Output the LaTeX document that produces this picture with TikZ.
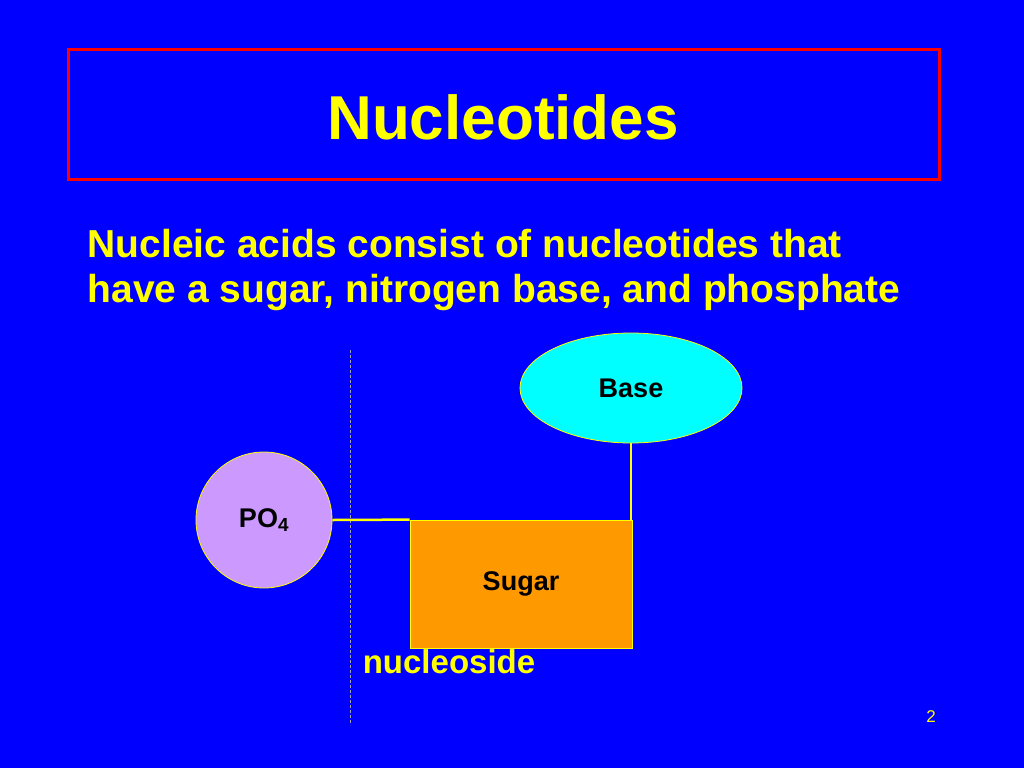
\documentclass[tikz,border=0pt]{standalone}
\usepackage{fontspec}
\setmainfont{Liberation Sans}
\usetikzlibrary{shapes.geometric}
\definecolor{slideblue}{RGB}{0,0,255}
\definecolor{slideyellow}{RGB}{255,255,0}
\definecolor{basecyan}{RGB}{0,255,255}
\definecolor{povio}{RGB}{204,153,255}
\definecolor{sugarorange}{RGB}{255,153,0}
\tikzset{
  heading/.style={text=slideyellow, font=\bfseries\fontsize{62}{64}\selectfont},
  bodytext/.style={text=slideyellow, font=\bfseries\fontsize{39}{45}\selectfont, align=left, anchor=west},
  part/.style={draw=slideyellow, line width=0.8, font=\bfseries\fontsize{27}{29}\selectfont, text=black},
  bond/.style={draw=slideyellow, line width=2.5}
}
\begin{document}
\begin{tikzpicture}[x=1pt,y=-1pt]
\fill[slideblue] (0,0) rectangle (1024,768);
\useasboundingbox (0,0) rectangle (1024,768);
\draw[red, line width=3] (68,50) rectangle (939,179);
\node[heading] (title) at (503,117) {Nucleotides};
\node[bodytext] (intro) at (84,270) {Nucleic acids consist of nucleotides that\\have a sugar, nitrogen base, and phosphate};
\draw[gray!70, dash pattern=on 3pt off 2pt, line width=1] (350,350) -- (350,725);
\node[part, ellipse, fill=basecyan, minimum width=222, minimum height=110] (base) at (631,388) {Base};
\node[part, circle, fill=povio, minimum size=136] (po) at (264,520) {PO\textsubscript{4}};
\node[part, fill=sugarorange, minimum width=222, minimum height=128] (sugar) at (521,584) {Sugar};
\draw[bond] (po.east) -- (sugar.north west);
\draw[bond] (base.south) -- (base.south |- sugar.north);
\node[text=slideyellow, font=\bfseries\fontsize{33}{34}\selectfont] (nucleoside) at (449,662) {nucleoside};
\node[text=slideyellow, font=\fontsize{17}{18}\selectfont] (page) at (931,717) {2};
\end{tikzpicture}
\end{document}
